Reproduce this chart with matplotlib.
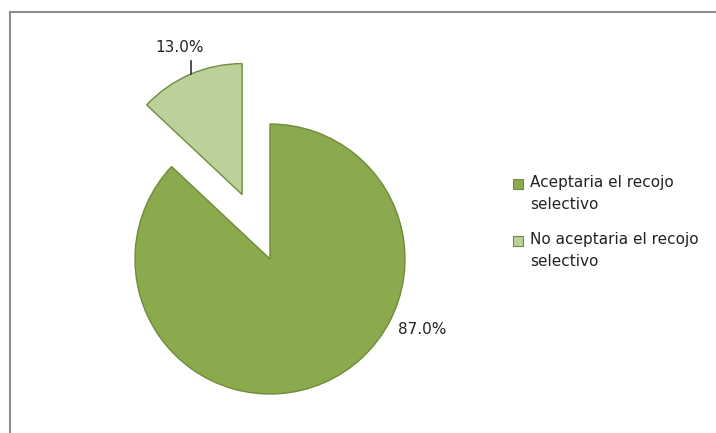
import matplotlib
matplotlib.use("Agg")
import matplotlib.pyplot as plt
from matplotlib.lines import Line2D

# datos
categorias = ["Aceptaria el recojo\nselectivo", "No aceptaria el recojo\nselectivo"]
porcentajes = [87.0, 13.0]
colores = ["#8BA94D", "#BCD199"]
separacion = [0.0, 0.52]

W, H = 716, 433
fig = plt.figure(figsize=(W / 100, H / 100), dpi=100)

# ejes a escala de pixeles: radio 1 = 135 px, centro en (270, 259)
R = 135.0
cx, cy = 270.0, 259.0
ax = fig.add_axes([0, 0, 1, 1])

wedges, _ = ax.pie(porcentajes, colors=colores, startangle=90, counterclock=False,
                   explode=separacion, radius=1.0,
                   wedgeprops=dict(edgecolor="#6F8C3C", linewidth=1.0))
# la porcion separada se ve un poco mas chica en el original
wedges[1].set_radius(0.97)

ax.set_aspect("auto")
ax.set_xlim(-cx / R, (W - cx) / R)
ax.set_ylim(-(H - cy) / R, cy / R)
ax.axis("off")

def px(x, y):
    return ((x - cx) / R, (cy - y) / R)

# etiquetas de datos
ax.text(*px(422, 329), "87.0%", fontsize=11, ha="center", va="center", color="#222222")
ax.text(*px(180, 48), "13.0%", fontsize=11, ha="center", va="center", color="#222222")
ax.plot(*zip(px(191, 61), px(191, 74)), color="#333333", linewidth=1.2)

# leyenda
ys = [184, 241]
for c, lab, y in zip(colores, categorias, ys):
    x0, y0 = px(518, y)
    ax.add_patch(plt.Rectangle((x0 - 5 / R, y0 - 5 / R), 10 / R, 10 / R,
                               facecolor=c, edgecolor="#6F8C3C", linewidth=0.8))
    ax.text(*px(530, y - 9), lab, fontsize=11, ha="left", va="top",
            color="#222222", linespacing=1.6)

# marco del grafico
fig.add_artist(Line2D([10 / W, 1], [1 - 12 / H, 1 - 12 / H], color="#8C8C8C", linewidth=1.5))
fig.add_artist(Line2D([10 / W, 10 / W], [0, 1 - 12 / H], color="#8C8C8C", linewidth=1.5))

fig.savefig("out.png", dpi=100)
